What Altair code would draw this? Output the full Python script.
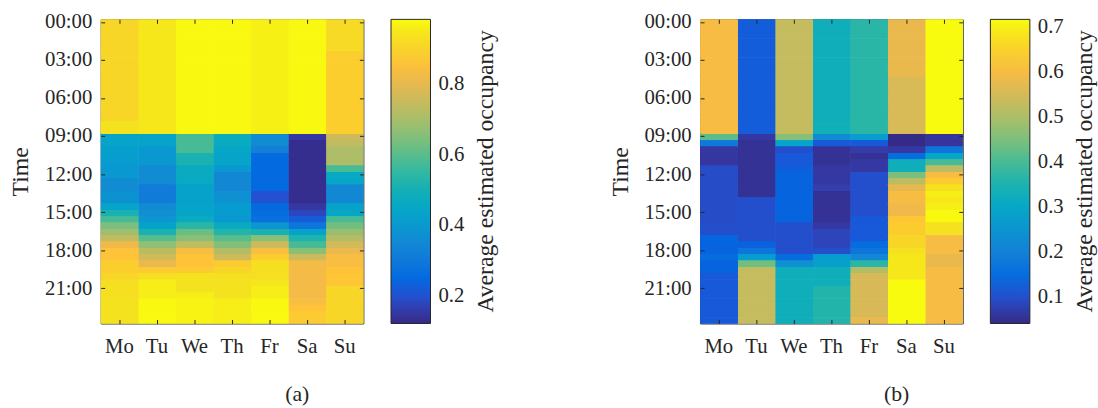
import altair as alt
import pandas as pd

days = ["Mo", "Tu", "We", "Th", "Fr", "Sa", "Su"]
time_slots = [f"{h:02d}:{m:02d}" for h in range(24) for m in (0, 30)]
time_ticks = ["00:00", "03:00", "06:00", "09:00", "12:00", "15:00", "18:00", "21:00"]
colorbar_title = "Average estimated occupancy"

# ---- panel (a): average estimated occupancy, one value per half hour ----
a_mo = [0.91, 0.91, 0.91, 0.91, 0.91, 0.91, 0.91, 0.91, 0.91, 0.91, 0.91, 0.91, 0.91, 0.91, 0.91, 0.91,
        0.94, 0.94,
        0.44, 0.44, 0.42, 0.42, 0.41, 0.40, 0.40, 0.36, 0.36, 0.38,
        0.38, 0.44, 0.51, 0.58, 0.64, 0.69, 0.74, 0.82, 0.86, 0.86,
        0.89, 0.89, 0.91, 0.93, 0.93, 0.93, 0.94, 0.94, 0.94, 0.94]
a_tu = [0.95, 0.95, 0.95, 0.95, 0.95, 0.95, 0.95, 0.95, 0.95, 0.95, 0.95, 0.95, 0.95, 0.95, 0.95, 0.95,
        0.95, 0.95,
        0.44, 0.44, 0.40, 0.40, 0.40, 0.36, 0.36, 0.36, 0.31, 0.31,
        0.31, 0.36, 0.37, 0.39, 0.43, 0.51, 0.60, 0.67, 0.73, 0.77,
        0.81, 0.88, 0.93, 0.96, 0.96, 0.96, 0.98, 0.98, 0.98, 0.98]
a_we = [0.98, 0.98, 0.98, 0.98, 0.98, 0.98, 0.98, 0.98, 0.98, 0.98, 0.98, 0.98, 0.98, 0.98, 0.98, 0.98,
        0.98, 0.98,
        0.58, 0.58, 0.58, 0.51, 0.51, 0.47, 0.47, 0.46, 0.43, 0.43,
        0.43, 0.44, 0.44, 0.47, 0.54, 0.62, 0.66, 0.74, 0.84, 0.86,
        0.86, 0.88, 0.94, 0.94, 0.94, 0.96, 0.97, 0.97, 0.97, 0.97]
a_th = [0.98, 0.98, 0.98, 0.98, 0.98, 0.98, 0.98, 0.98, 0.98, 0.98, 0.98, 0.98, 0.98, 0.98, 0.98, 0.98,
        0.98, 0.98,
        0.48, 0.47, 0.45, 0.44, 0.44, 0.40, 0.35, 0.35, 0.35, 0.37,
        0.38, 0.41, 0.41, 0.40, 0.47, 0.53, 0.60, 0.65, 0.72, 0.76,
        0.88, 0.91, 0.93, 0.94, 0.94, 0.94, 0.96, 0.96, 0.96, 0.96]
a_fr = [0.965, 0.965, 0.965, 0.965, 0.965, 0.965, 0.965, 0.965, 0.965, 0.965, 0.965, 0.965, 0.965, 0.965, 0.965, 0.965,
        0.965, 0.965,
        0.36, 0.36, 0.32, 0.25, 0.25, 0.25, 0.25, 0.25, 0.25, 0.20,
        0.20, 0.25, 0.26, 0.27, 0.39, 0.51, 0.66, 0.76, 0.84, 0.89,
        0.93, 0.93, 0.93, 0.95, 0.96, 0.96, 0.98, 0.98, 0.98, 0.98]
a_sa = [0.98, 0.98, 0.98, 0.98, 0.98, 0.98, 0.98, 0.98, 0.98, 0.98, 0.98, 0.98, 0.98, 0.98, 0.98, 0.98,
        0.98, 0.98,
        0.15, 0.13, 0.13, 0.13, 0.13, 0.13, 0.13, 0.13, 0.13, 0.13,
        0.13, 0.15, 0.18, 0.22, 0.29, 0.43, 0.52, 0.58, 0.66, 0.76,
        0.83, 0.83, 0.83, 0.83, 0.83, 0.83, 0.84, 0.86, 0.88, 0.88]
a_su = [0.92, 0.92, 0.92, 0.92, 0.92, 0.89, 0.89, 0.89, 0.89, 0.89, 0.89, 0.89, 0.89, 0.89, 0.89, 0.89,
        0.89, 0.89,
        0.76, 0.74, 0.71, 0.71, 0.71, 0.58, 0.46, 0.45, 0.35, 0.35,
        0.35, 0.43, 0.45, 0.58, 0.63, 0.68, 0.72, 0.77, 0.81, 0.84,
        0.84, 0.86, 0.87, 0.87, 0.91, 0.91, 0.91, 0.91, 0.91, 0.91]

# ---- panel (b) ----
b_mo = [0.60, 0.60, 0.60, 0.60, 0.60, 0.60, 0.60, 0.60, 0.60, 0.60, 0.60, 0.60, 0.60, 0.60, 0.60, 0.60,
        0.60, 0.60,
        0.42, 0.18, 0.065, 0.062, 0.062, 0.096, 0.096, 0.096, 0.096, 0.096,
        0.096, 0.096, 0.096, 0.096, 0.10, 0.10, 0.135, 0.133, 0.133, 0.15,
        0.133, 0.133, 0.116, 0.116, 0.116, 0.116, 0.116, 0.116, 0.116, 0.116]
b_tu = [0.12, 0.12, 0.12, 0.12, 0.12, 0.12, 0.12, 0.12, 0.12, 0.12, 0.12, 0.12, 0.12, 0.12, 0.12, 0.12,
        0.12, 0.12,
        0.065, 0.055, 0.055, 0.055, 0.055, 0.055, 0.055, 0.055, 0.055, 0.055,
        0.10, 0.10, 0.10, 0.10, 0.10, 0.10, 0.10, 0.13, 0.17, 0.27,
        0.44, 0.53, 0.53, 0.53, 0.53, 0.53, 0.53, 0.53, 0.53, 0.53]
b_we = [0.53, 0.53, 0.53, 0.53, 0.53, 0.53, 0.53, 0.53, 0.53, 0.53, 0.53, 0.53, 0.53, 0.53, 0.53, 0.53,
        0.53, 0.53,
        0.46, 0.29, 0.10, 0.116, 0.116, 0.125, 0.133, 0.133, 0.133, 0.133,
        0.133, 0.133, 0.133, 0.133, 0.10, 0.10, 0.10, 0.10, 0.10, 0.15,
        0.24, 0.33, 0.33, 0.33, 0.33, 0.33, 0.33, 0.33, 0.33, 0.33]
b_th = [0.33, 0.33, 0.33, 0.33, 0.33, 0.33, 0.33, 0.33, 0.33, 0.33, 0.33, 0.33, 0.33, 0.33, 0.33, 0.33,
        0.335, 0.335,
        0.23, 0.116, 0.055, 0.055, 0.055, 0.065, 0.065, 0.065, 0.075, 0.055,
        0.055, 0.055, 0.055, 0.055, 0.065, 0.085, 0.085, 0.085, 0.10, 0.27,
        0.28, 0.33, 0.33, 0.33, 0.36, 0.36, 0.36, 0.36, 0.36, 0.36]
b_fr = [0.37, 0.37, 0.37, 0.37, 0.37, 0.37, 0.37, 0.37, 0.37, 0.37, 0.37, 0.37, 0.37, 0.37, 0.37, 0.37,
        0.37, 0.37,
        0.27, 0.116, 0.07, 0.055, 0.065, 0.065, 0.10, 0.10, 0.10, 0.10,
        0.10, 0.10, 0.10, 0.116, 0.116, 0.116, 0.116, 0.15, 0.17, 0.22,
        0.37, 0.51, 0.555, 0.555, 0.555, 0.555, 0.555, 0.555, 0.555, 0.58]
b_sa = [0.58, 0.58, 0.58, 0.58, 0.58, 0.58, 0.58, 0.58, 0.58, 0.556, 0.556, 0.556, 0.556, 0.556, 0.556, 0.556,
        0.556, 0.556,
        0.042, 0.042, 0.065, 0.15, 0.33, 0.33, 0.45, 0.52, 0.575, 0.60,
        0.60, 0.59, 0.59, 0.63, 0.64, 0.64, 0.66, 0.66, 0.68, 0.69,
        0.69, 0.69, 0.69, 0.718, 0.718, 0.718, 0.718, 0.718, 0.718, 0.718]
b_su = [0.718, 0.718, 0.718, 0.718, 0.718, 0.718, 0.718, 0.718, 0.718, 0.718, 0.718, 0.718, 0.718, 0.718, 0.718, 0.718,
        0.718, 0.718,
        0.06, 0.06, 0.17, 0.30, 0.40, 0.52, 0.60, 0.64, 0.68, 0.70,
        0.69, 0.70, 0.715, 0.715, 0.68, 0.68, 0.60, 0.60, 0.60, 0.58,
        0.58, 0.60, 0.60, 0.60, 0.60, 0.60, 0.60, 0.60, 0.60, 0.60]

panel_a = [a_mo, a_tu, a_we, a_th, a_fr, a_sa, a_su]
panel_b = [b_mo, b_tu, b_we, b_th, b_fr, b_sa, b_su]
domain_a = [0.121, 0.985]
domain_b = [0.042, 0.718]
legend_ticks_a = [0.2, 0.4, 0.6, 0.8]
legend_ticks_b = [0.1, 0.2, 0.3, 0.4, 0.5, 0.6, 0.7]

# parula colormap stops
parula = ["#352a87", "#353dad", "#2053d4", "#0268e1", "#0d75dc", "#1481d6", "#108ed2",
          "#079ccf", "#06a7c6", "#0faeb9", "#25b5a9", "#42bb98", "#65be86", "#87bf77",
          "#a5be6b", "#c0bc60", "#d9ba56", "#f1b94a", "#ffc337", "#f9d32a", "#f5e41d", "#f9fb0e"]

FONT = "Liberation Serif"
INK = "#262626"
W, H = 266, 308


def make_df(panel):
    rows = []
    for d, vals in zip(days, panel):
        for t, v in zip(time_slots, vals):
            rows.append({"day": d, "time": t, "occ": v})
    return pd.DataFrame(rows)


def panel_chart(panel, domain, ticks, label):
    df = make_df(panel)
    base = alt.Chart(df)
    xs = alt.Scale(domain=days, paddingInner=0, paddingOuter=0)
    ys = alt.Scale(domain=time_slots, paddingInner=0, paddingOuter=0)
    cscale = alt.Scale(domain=domain, range=parula, interpolate="rgb", nice=False, clamp=True)
    color_enc = alt.Color("occ:Q", scale=cscale,
                          legend=alt.Legend(
                              title=None, orient="right",
                              direction="vertical", gradientLength=H, gradientThickness=40,
                              gradientStrokeColor=INK, gradientStrokeWidth=1,
                              values=ticks, format=".1f", labelFont=FONT, labelFontSize=21,
                              labelColor=INK, labelOffset=8, labelOverlap=False,
                              offset=27, padding=0))
    heat = base.mark_rect().encode(
        x=alt.X("day:N", scale=xs, axis=alt.Axis(
            orient="bottom", title=None, labelAngle=0, labelPadding=12, offset=-4,
            tickSize=4, domain=False)),
        y=alt.Y("time:O", scale=ys, axis=alt.Axis(
            orient="left", values=time_ticks, title="Time", labelPadding=9, offset=-4,
            tickSize=4, domain=False, titleFontSize=24, titlePadding=12)),
        color=color_enc,
    )
    # same cells drawn again, shifted half a pixel, to hide anti-aliasing seams
    heat2 = base.mark_rect(xOffset=0.5, yOffset=0.5, clip=True).encode(
        x=alt.X("day:N", scale=xs, axis=None),
        y=alt.Y("time:O", scale=ys, axis=None),
        color=color_enc,
    )
    frame = base.mark_rect(opacity=0).encode(
        x=alt.X("day:N", scale=xs, axis=alt.Axis(
            orient="top", title=None, labels=False, offset=-4, tickSize=4, domain=False)),
        y=alt.Y("time:O", scale=ys, axis=alt.Axis(
            orient="right", title=None, labels=False, values=time_ticks, offset=-4,
            tickSize=4, domain=False)),
    )
    cbar_title = alt.Chart(pd.DataFrame({"t": [colorbar_title]})).mark_text(
        angle=270, align="center", baseline="middle", font=FONT, fontSize=24, color=INK
    ).encode(text="t:N", x=alt.value(390), y=alt.value(H / 2))
    return alt.layer(heat, heat2, frame, cbar_title).resolve_axis(
        x="independent", y="independent").properties(
        width=W, height=H,
        title=alt.TitleParams(label, orient="bottom", anchor="middle", frame="group",
                              dx=66, offset=29, font=FONT, fontSize=22,
                              fontWeight="normal", color=INK))


chart = alt.hconcat(
    panel_chart(panel_a, domain_a, legend_ticks_a, "(a)"),
    panel_chart(panel_b, domain_b, legend_ticks_b, "(b)"),
    spacing=110,
).resolve_scale(color="independent").configure_view(
    stroke=INK, strokeWidth=1
).configure_axis(
    labelFont=FONT, labelFontSize=21, labelColor=INK, tickColor=INK,
    titleFont=FONT, titleColor=INK, titleFontWeight="normal"
).properties(
    padding={"left": 8, "top": 8, "right": 0, "bottom": 0},
    background="white"
)

chart.save("out.html", embed_options={"renderer": "svg", "actions": False})
